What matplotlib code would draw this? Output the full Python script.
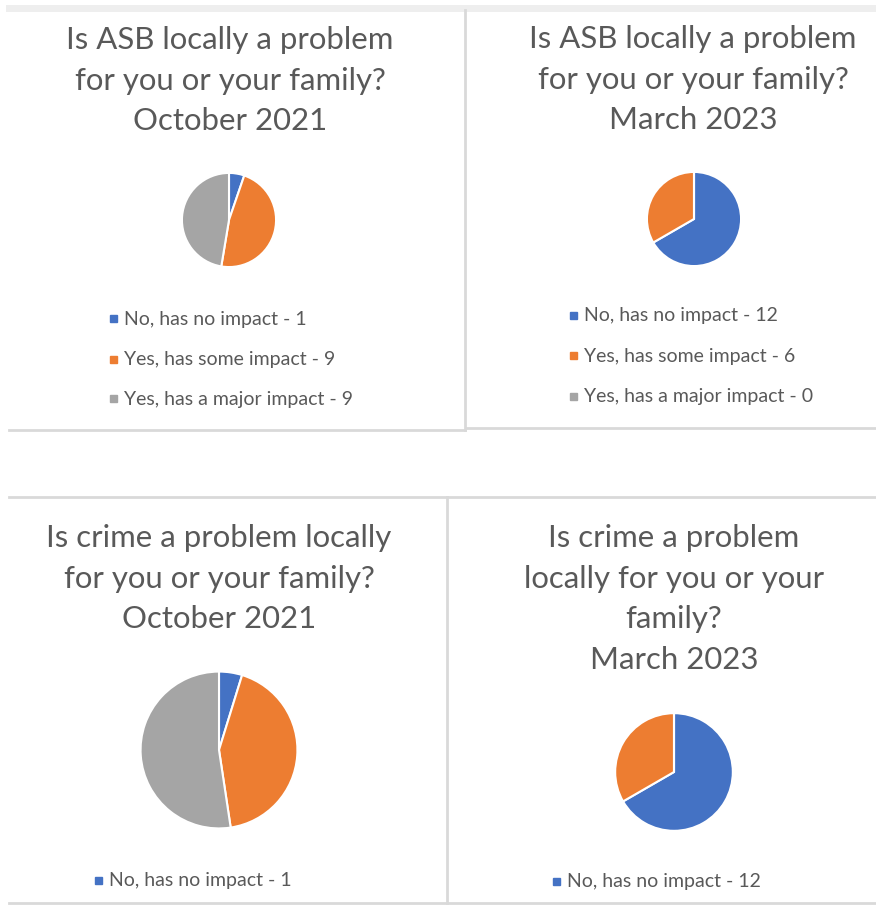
import matplotlib.pyplot as plt
from matplotlib.patches import Rectangle
from matplotlib.lines import Line2D

plt.rcParams['font.family'] = ['Lato', 'DejaVu Sans']

# datos
categorias = ['No, has no impact', 'Yes, has some impact', 'Yes, has a major impact']
colores = ['#4472C4', '#ED7D31', '#A5A5A5']

titulos = [
    'Is ASB locally a problem\nfor you or your family?\nOctober 2021',
    'Is ASB locally a problem\nfor you or your family?\nMarch 2023',
    'Is crime a problem locally\nfor you or your family?\nOctober 2021',
    'Is crime a problem\nlocally for you or your\nfamily?\nMarch 2023',
]
asb_oct21 = [1, 9, 9]
asb_mar23 = [12, 6, 0]
crime_oct21 = [1, 9, 11]
crime_mar23 = [12, 6, 0]
valores = [asb_oct21, asb_mar23, crime_oct21, crime_mar23]
entradas_visibles = [3, 3, 1, 1]  # las de abajo están recortadas

W, H = 876, 905
fig = plt.figure(figsize=(W / 100, H / 100), dpi=100)
fig.patch.set_facecolor('white')

def fx(x):
    return x / W

def fy(y):
    return 1 - y / H

# disposición en píxeles: título (cx, línea base de la primera línea), tarta (cx, cy, r), leyenda
paneles = [
    dict(tx=230, ty=49, cx=229, cy=220, r=48, lx=113, ly=319),
    dict(tx=693, ty=48, cx=694, cy=219, r=48, lx=573, ly=316),
    dict(tx=219, ty=547, cx=219, cy=750, r=80, lx=98, ly=880),
    dict(tx=674, ty=547, cx=674, cy=772, r=60, lx=556, ly=881),
]
salto = 40.7   # separación entre líneas del título
paso = 40      # separación entre entradas de la leyenda

gris = '#595959'
for p, titulo, vals, n in zip(paneles, titulos, valores, entradas_visibles):
    for k, linea in enumerate(titulo.split('\n')):
        fig.text(fx(p['tx']), fy(p['ty'] + k * salto), linea, ha='center', va='baseline',
                 fontsize=22.4, color=gris)
    ax = fig.add_axes([fx(p['cx'] - p['r']), fy(p['cy'] + p['r']), 2 * p['r'] / W, 2 * p['r'] / H])
    ax.pie(vals, colors=colores, startangle=90, counterclock=False,
           wedgeprops=dict(edgecolor='white', linewidth=1.5))
    ax.set_xlim(-1.02, 1.02)
    ax.set_ylim(-1.02, 1.02)
    ax.set_aspect('equal')
    ax.axis('off')
    for i in range(n):
        y = p['ly'] + i * paso
        fig.add_artist(Rectangle((fx(p['lx'] - 3.5), fy(y + 3.5)), 7 / W, 7 / H,
                                 color=colores[i], transform=fig.transFigure))
        fig.text(fx(p['lx'] + 11), fy(y), f'{categorias[i]} - {vals[i]}', ha='left', va='center',
                 fontsize=14, color=gris)

# bordes de los gráficos
borde = '#d9d9d9'
lineas = [
    ((9, 876), (8, 8), 5, '#eeeeee'),
    ((9, 465), (430, 430), 2, borde),
    ((465, 465), (10, 430), 2, borde),
    ((466, 876), (428, 428), 2, borde),
    ((9, 876), (497, 497), 2, borde),
    ((447, 447), (497, 905), 2, borde),
    ((9, 876), (903, 903), 2, borde),
]
for xs, ys, lw, c in lineas:
    fig.add_artist(Line2D([fx(xs[0]), fx(xs[1])], [fy(ys[0]), fy(ys[1])], lw=lw, color=c,
                          transform=fig.transFigure))

plt.savefig('out.png', dpi=100, facecolor='white')
